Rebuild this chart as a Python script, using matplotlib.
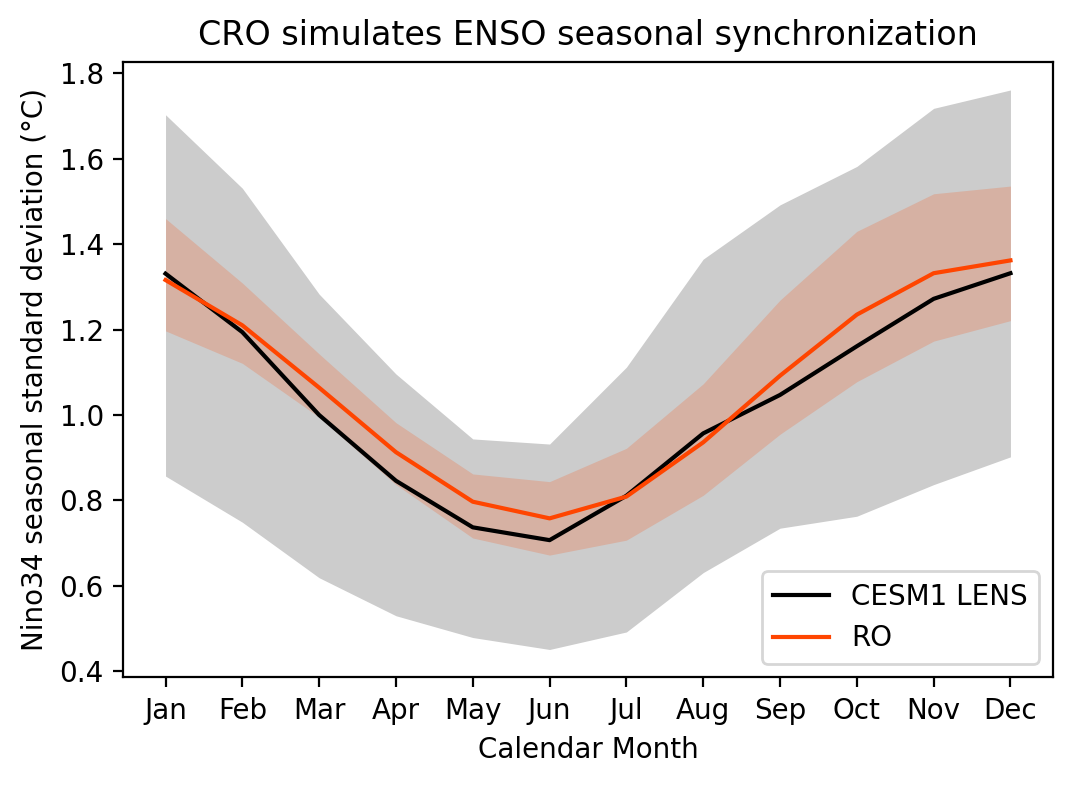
import matplotlib
matplotlib.use("Agg")
import matplotlib.pyplot as plt
import numpy as np

months = ["Jan", "Feb", "Mar", "Apr", "May", "Jun",
          "Jul", "Aug", "Sep", "Oct", "Nov", "Dec"]

# CESM1 LENS ensemble spread and mean
lens_mean = [1.331, 1.194, 1.000, 0.846, 0.737, 0.707,
             0.811, 0.957, 1.047, 1.161, 1.272, 1.332]
lens_low = [0.857, 0.749, 0.619, 0.530, 0.479, 0.451,
            0.492, 0.631, 0.735, 0.763, 0.837, 0.902]
lens_high = [1.703, 1.531, 1.283, 1.096, 0.944, 0.932,
             1.112, 1.365, 1.492, 1.582, 1.718, 1.761]

# RO ensemble spread and mean
ro_mean = [1.316, 1.210, 1.064, 0.913, 0.797, 0.758,
           0.809, 0.936, 1.092, 1.235, 1.332, 1.362]
ro_low = [1.197, 1.121, 0.995, 0.837, 0.712, 0.672,
          0.707, 0.812, 0.955, 1.078, 1.173, 1.221]
ro_high = [1.460, 1.309, 1.143, 0.982, 0.862, 0.844,
           0.922, 1.073, 1.269, 1.430, 1.518, 1.536]

x = np.arange(1, 13)

fig, ax = plt.subplots(figsize=(5.36, 3.925), dpi=200)
fig.subplots_adjust(left=0.115, right=0.982, top=0.921, bottom=0.137)

ax.fill_between(x, lens_low, lens_high, color="0.8", lw=0)
ax.fill_between(x, ro_low, ro_high, color="orangered", alpha=0.2, lw=0)
ax.plot(x, lens_mean, color="k", label="CESM1 LENS")
ax.plot(x, ro_mean, color="orangered", label="RO")

ax.set_xticks(x)
ax.set_xticklabels(months)
ax.set_xlabel("Calendar Month")
ax.set_ylabel("Nino34 seasonal standard deviation (°C)")
ax.set_title("CRO simulates ENSO seasonal synchronization")
ax.legend(loc="lower right")

fig.savefig("out.png", dpi=200)
